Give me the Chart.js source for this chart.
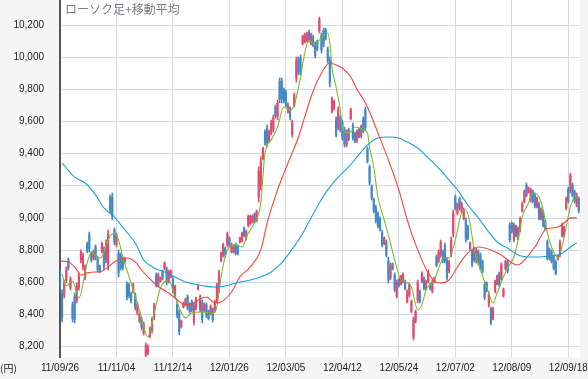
<!DOCTYPE html>
<html><head><meta charset="utf-8">
<script src="https://cdn.jsdelivr.net/npm/chart.js@4.4.1/dist/chart.umd.min.js"></script>
<style>html,body{margin:0;padding:0;background:#fff;}#c{display:block;}</style>
</head><body>
<canvas id="c" width="588" height="379"></canvas>
<script>
const chartTitle = "ローソク足+移動平均";
const unitLabel = "(円)";
const xTickIdx = [0,27,54,81,108,135,162,189,216,243];
const xTickLabels = ["11/09/26","11/11/04","11/12/14","12/01/26","12/03/05","12/04/12","12/05/24","12/07/02","12/08/09","12/09/18"];
const yTicks = [8200,8400,8600,8800,9000,9200,9400,9600,9800,10000,10200];

const open = [
8660,8530,8520,8615,8740,8570,8460,8510,8490,8570,
8735,8695,8630,8840,8895,8780,8750,8820,8745,8700,
8795,8800,8740,8710,9130,9130,8925,8835,8780,8770,
8745,8725,8590,8585,8530,8545,8520,8410,8360,8375,
8285,8150,8160,8265,8300,8385,8645,8585,8607,8670,
8685,8680,8610,8635,8620,8520,8465,8410,8325,8445,
8460,8510,8465,8480,8355,8440,8557,8430,8475,8425,
8460,8420,8405,8430,8425,8490,8555,8735,8770,8810,
8835,8875,8790,8790,8835,8825,8850,8860,8935,8870,
8955,8965,8975,9025,8985,9130,9200,9370,9535,9560,
9485,9530,9550,9690,9630,9850,9850,9795,9780,9660,
9680,9520,9700,9870,9985,9995,10085,10095,10100,10155,
10085,10125,10080,10095,10165,10135,10165,10170,10050,9980,
9665,9680,9610,9565,9625,9595,9550,9455,9550,9620,
9575,9525,9480,9550,9510,9615,9675,9430,9315,9195,
9115,9065,9025,8995,8910,8840,8850,8735,8630,8715,
8645,8515,8620,8590,8605,8605,8480,8520,8420,8260,
8360,8490,8545,8605,8625,8560,8605,8590,8545,8600,
8760,8730,8770,8790,8830,8735,8670,8775,8900,9130,
9030,9120,9040,9000,8985,8945,8810,8790,8810,8735,
8790,8770,8730,8590,8595,8460,8435,8375,8545,8590,
8655,8625,8515,8685,8730,8955,8970,8865,8950,8875,
8925,9045,9100,9205,9160,9110,9165,9145,9070,9085,
8995,9035,8980,8850,8805,8790,8760,8725,8742,8770,
8890,8890,9060,9180,9170,9205,9165,9080,9120];
const high = [
8680,8553,8615,8696,8752,8634,8478,8534,8596,8659,
8802,8783,8708,8851,8913,8789,8802,8833,8758,8708,
8851,8820,8864,8926,9144,9156,8938,8907,8802,8783,
8758,8758,8603,8596,8540,8596,8534,8478,8410,8385,
8354,8223,8211,8323,8385,8472,8659,8659,8634,8677,
8727,8696,8677,8677,8634,8584,8478,8428,8366,8478,
8503,8522,8472,8491,8472,8509,8584,8522,8491,8472,
8472,8428,8460,8441,8491,8596,8677,8789,8845,8820,
8913,8882,8845,8833,8845,8833,8882,8913,8945,8926,
9019,9019,9019,9032,9050,9318,9380,9442,9548,9579,
9548,9610,9641,9703,9734,9871,9871,9809,9796,9716,
9691,9610,9778,10002,10002,10014,10138,10151,10157,10169,
10151,10138,10095,10107,10250,10151,10182,10182,10064,10002,
9753,9734,9629,9691,9641,9610,9566,9548,9560,9684,
9591,9535,9548,9560,9579,9629,9691,9442,9330,9206,
9125,9081,9038,9007,8926,8882,8864,8758,8721,8721,
8659,8615,8627,8646,8659,8615,8553,8596,8491,8385,
8428,8615,8553,8665,8634,8615,8677,8596,8615,8634,
8770,8802,8864,8802,8845,8752,8739,8882,9050,9144,
9094,9131,9100,9063,9001,8957,8851,8802,8820,8814,
8802,8783,8739,8603,8603,8540,8447,8447,8615,8646,
8665,8721,8565,8739,8739,8969,8976,8969,8957,8945,
9007,9100,9175,9218,9193,9187,9175,9156,9131,9100,
9063,9050,8988,8864,8814,8802,8770,8739,8770,8864,
8969,8950,9131,9193,9280,9218,9175,9156,9131];
const low = [
8560,8354,8503,8596,8677,8553,8354,8348,8472,8553,
8721,8677,8615,8783,8789,8727,8739,8739,8665,8659,
8783,8677,8721,8677,9032,8988,8833,8820,8634,8677,
8677,8721,8491,8503,8472,8534,8428,8397,8348,8304,
8273,8136,8149,8254,8285,8366,8571,8571,8603,8615,
8677,8584,8596,8627,8534,8509,8379,8273,8317,8441,
8453,8428,8410,8416,8335,8428,8553,8416,8348,8416,
8379,8366,8397,8354,8416,8472,8534,8727,8758,8758,
8820,8820,8783,8783,8770,8770,8845,8851,8882,8864,
8945,8957,8969,8969,8976,9100,9175,9361,9454,9442,
9473,9517,9535,9622,9610,9716,9716,9716,9691,9653,
9610,9504,9691,9846,9890,9890,10076,10089,10095,10095,
10076,10064,9995,10040,10151,10026,10064,10107,9964,9815,
9653,9672,9504,9548,9535,9485,9442,9442,9480,9610,
9485,9467,9470,9498,9498,9529,9548,9342,9206,9112,
9032,8969,8938,8920,8820,8833,8758,8596,8615,8677,
8540,8503,8571,8584,8596,8553,8472,8509,8410,8242,
8348,8472,8472,8596,8553,8553,8596,8553,8534,8596,
8696,8721,8758,8721,8721,8615,8659,8758,8882,9050,
9019,9050,9032,8988,8851,8864,8802,8696,8727,8721,
8708,8677,8659,8491,8540,8447,8335,8366,8534,8584,
8571,8615,8509,8677,8659,8851,8907,8851,8882,8864,
8913,9038,9094,9131,9156,9100,9094,9063,9063,8988,
8988,8945,8926,8739,8739,8721,8677,8646,8739,8758,
8882,8880,9050,9094,9156,9131,9094,9069,9032];
const close = [
8580,8380,8600,8680,8690,8620,8375,8370,8580,8640,
8790,8765,8695,8795,8810,8740,8790,8755,8680,8670,
8840,8700,8845,8900,9050,9010,8850,8895,8660,8695,
8690,8750,8510,8520,8485,8585,8445,8465,8400,8320,
8340,8210,8200,8310,8370,8455,8585,8645,8630,8625,
8720,8600,8665,8670,8550,8575,8395,8295,8360,8470,
8495,8445,8420,8430,8455,8495,8578,8505,8370,8465,
8395,8375,8450,8370,8480,8580,8660,8780,8835,8770,
8900,8830,8835,8825,8780,8780,8875,8905,8890,8915,
9010,9010,9010,8980,9040,9290,9350,9430,9470,9465,
9535,9595,9625,9635,9715,9740,9740,9730,9705,9705,
9625,9595,9765,9980,9905,9910,10130,10140,10145,10105,
10140,10075,10010,10050,10235,10045,10080,10115,9980,9840,
9740,9725,9520,9675,9550,9500,9460,9535,9490,9675,
9500,9475,9540,9505,9570,9540,9565,9355,9220,9125,
9045,8985,8950,8930,8835,8875,8770,8615,8705,8685,
8555,8600,8580,8640,8650,8560,8540,8585,8480,8365,
8415,8600,8485,8655,8565,8605,8665,8560,8605,8628,
8705,8790,8850,8735,8735,8630,8725,8865,9030,9060,
9085,9060,9090,9050,8870,8875,8845,8710,8740,8800,
8720,8690,8670,8505,8550,8525,8350,8435,8605,8640,
8585,8710,8558,8730,8670,8865,8915,8955,8890,8935,
8995,9090,9165,9140,9188,9175,9105,9075,9125,9000,
9055,8955,8935,8750,8750,8730,8690,8655,8765,8850,
8960,8940,9120,9105,9265,9140,9105,9145,9045];

const ma5Idx = [1,3,6,9,13,15,17,19,21,23,26,28,30,34,38,42,45,48,52,55,60,63,68,73,75,77,80,84,87,90,93,96,97,98,101,104,107,110,112,115,117,119,122,124,128,129,130,132,134,135,137,139,141,143,145,147,148,150,152,155,158,160,163,165,168,171,173,175,177,179,182,184,186,189,192,194,196,198,201,205,207,209,212,214,217,219,221,224,226,229,231,233,236,238,240,242,244,247,248];
const ma5Val = [8652,8578,8609,8503,8721,8789,8770,8752,8783,8864,8907,8864,8758,8596,8428,8261,8410,8565,8615,8509,8379,8410,8416,8410,8447,8634,8802,8833,8820,8907,8969,9094,9255,9405,9485,9566,9691,9672,9703,9877,10026,10107,10076,10107,10151,10089,9939,9815,9672,9566,9529,9535,9566,9560,9548,9529,9442,9318,9131,8988,8845,8739,8615,8603,8571,8428,8460,8553,8584,8615,8721,8758,8752,8864,9032,9050,8969,8802,8677,8534,8472,8534,8634,8690,8758,8864,9007,9094,9156,9131,9050,8907,8789,8758,8820,8945,9069,9144,9125];

const ma25Idx = [0,4,7,10,13,17,19,23,26,29,32,36,39,42,45,48,52,55,58,61,68,70,74,77,82,86,91,96,99,104,109,114,117,120,124,129,132,135,139,142,145,148,152,157,162,166,171,176,181,186,190,195,200,203,206,211,216,219,222,227,232,235,238,241,244,247];
const ma25Val = [8733,8727,8696,8646,8659,8665,8665,8696,8727,8746,8752,8727,8677,8634,8596,8565,8534,8503,8472,8460,8503,8509,8472,8478,8540,8634,8696,8802,8969,9175,9342,9504,9629,9753,9877,9964,9952,9933,9877,9800,9740,9660,9529,9361,9175,8988,8802,8659,8596,8615,8696,8783,8820,8814,8802,8770,8721,8708,8739,8820,8926,8938,8945,8969,9001,9001];

const ma75Idx = [1,7,12,17,21,26,31,36,40,45,50,55,60,64,69,74,79,84,91,96,101,106,110,115,120,124,128,133,138,142,147,152,157,162,166,171,176,181,186,190,195,200,205,209,214,219,224,229,233,238,241,244,247];
const ma75Val = [9342,9255,9218,9144,9063,9007,8926,8845,8739,8690,8665,8634,8603,8590,8578,8571,8578,8596,8615,8634,8665,8721,8789,8882,9001,9094,9175,9255,9318,9380,9454,9498,9504,9498,9473,9436,9374,9311,9237,9175,9081,9001,8913,8851,8814,8770,8758,8758,8764,8770,8789,8820,8845];

const candleUp = '#e24a70', candleDown = '#4388c4';
const colorOf = i => close[i] >= open[i] ? candleUp : candleDown;
const wickData = high.map((h, i) => ({x: i, y: [low[i], h]}));
const bodyData = open.map((o, i) => ({x: i, y: [o, close[i]]}));
const pts = (idx, val) => idx.map((x, i) => ({x: x, y: val[i]}));
const gridColor = '#d3d9e8';

const bgPlugin = {
  id: 'bg',
  beforeDraw(chart) {
    const {ctx, chartArea: a, width, height} = chart;
    ctx.save();
    ctx.fillStyle = '#f5f5f5';
    ctx.fillRect(0, 0, width, height);
    ctx.fillStyle = '#ffffff';
    ctx.fillRect(a.left, a.top, a.right - a.left, a.bottom - a.top);
    ctx.restore();
  }
};
const textPlugin = {
  id: 'txt',
  afterDraw(chart) {
    const ctx = chart.ctx;
    ctx.save();
    ctx.textBaseline = 'middle';
    ctx.textAlign = 'left';
    ctx.fillStyle = '#7a7a7a';
    ctx.font = '12px "Noto Sans CJK JP"';
    ctx.fillText(chartTitle, 65, 9);
    ctx.fillStyle = '#222';
    ctx.font = '10px "Noto Sans CJK JP"';
    ctx.fillText(unitLabel, 0, 368);
    ctx.restore();
  }
};

const lineDs = (idx, val, color) => ({
  type: 'line', data: pts(idx, val), borderColor: color, borderWidth: 1.1,
  pointRadius: 0, cubicInterpolationMode: 'monotone', fill: false, order: 0
});

new Chart(document.getElementById('c'), {
  type: 'bar',
  data: {
    datasets: [
      lineDs(ma75Idx, ma75Val, '#1a9fd6'),
      lineDs(ma25Idx, ma25Val, '#f0483c'),
      lineDs(ma5Idx, ma5Val, '#7cbb2e'),
      {type: 'bar', data: wickData, backgroundColor: c => colorOf(c.dataIndex),
       barThickness: 1, grouped: false, borderWidth: 0, order: 2},
      {type: 'bar', data: bodyData, backgroundColor: c => colorOf(c.dataIndex),
       barThickness: 1.5, grouped: false, borderWidth: 0, order: 1}
    ]
  },
  options: {
    responsive: false,
    animation: false,
    events: [],
    layout: {padding: {left: 0, right: 8, top: 0, bottom: 0}},
    plugins: {legend: {display: false}, tooltip: {enabled: false}, title: {display: false}},
    scales: {
      x: {
        type: 'linear', min: 0, max: 248.6, offset: false,
        afterBuildTicks: s => { s.ticks = xTickIdx.map(v => ({value: v})); },
        afterFit: s => { s.height = 22; s.paddingLeft = 0; s.paddingRight = 0; },
        ticks: {
          callback: v => { const k = xTickIdx.indexOf(v); return k >= 0 ? xTickLabels[k] : ''; },
          autoSkip: false, maxRotation: 0, padding: 5, color: '#222',
          font: {family: 'Liberation Sans', size: 10}
        },
        grid: {color: gridColor, drawTicks: false, offset: false},
        border: {display: false}
      },
      y: {
        type: 'linear', min: 8136, max: 10356,
        afterBuildTicks: s => { s.ticks = yTicks.map(v => ({value: v})); },
        afterFit: s => { s.width = 60; s.paddingTop = 0; s.paddingBottom = 0; },
        ticks: {
          callback: v => v.toLocaleString('en-US'),
          padding: 16, color: '#222', font: {family: 'Liberation Sans', size: 10}
        },
        grid: {color: gridColor, drawTicks: false},
        border: {color: '#555', width: 2}
      }
    }
  },
  plugins: [bgPlugin, textPlugin]
});
</script>
</body></html>
